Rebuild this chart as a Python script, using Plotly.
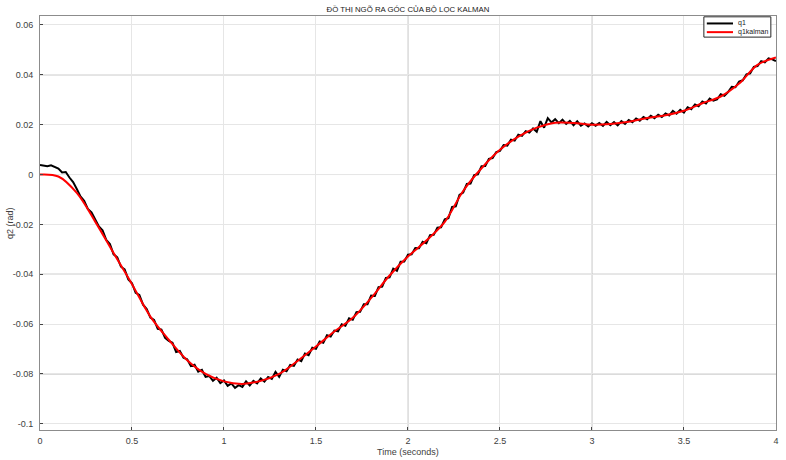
import plotly.graph_objects as go

# Time axis (seconds)
t_kalman = [i / 10 for i in range(41)]
t_meas = [i / 50 for i in range(201)]

# q1 kalman estimate (rad), read every 0.1 s
q1_kalman = [
    0.0000, -0.0008, -0.0074, -0.0189, -0.0315, -0.0440, -0.0570, -0.0663,
    -0.0745, -0.0800, -0.0830, -0.0840, -0.0828, -0.0800, -0.0748, -0.0690,
    -0.0630, -0.0575, -0.0495, -0.0405, -0.0329, -0.0265, -0.0190, -0.0066,
    0.0025, 0.0099, 0.0152, 0.0188, 0.0208, 0.0207, 0.0200, 0.0203,
    0.0212, 0.0227, 0.0238, 0.0256, 0.0286, 0.0313, 0.0365, 0.0440, 0.0470,
]

# q1 measured (rad), read every 0.02 s
q1 = [
    0.0038, 0.0036, 0.0033, 0.0037, 0.0031, 0.0024, 0.0008, 0.0010, -0.0012, -0.0030,
    -0.0058, -0.0088, -0.0105, -0.0138, -0.0152, -0.0178, -0.0208, -0.0224, -0.0262, -0.0279,
    -0.0320, -0.0332, -0.0370, -0.0381, -0.0421, -0.0436, -0.0475, -0.0483, -0.0522, -0.0540,
    -0.0574, -0.0583, -0.0619, -0.0622, -0.0655, -0.0668, -0.0675, -0.0712, -0.0708, -0.0735,
    -0.0741, -0.0768, -0.0763, -0.0791, -0.0784, -0.0812, -0.0808, -0.0828, -0.0815, -0.0837,
    -0.0826, -0.0848, -0.0838, -0.0856, -0.0845, -0.0852, -0.0830, -0.0846, -0.0828, -0.0838,
    -0.0818, -0.0831, -0.0812, -0.0820, -0.0792, -0.0812, -0.0783, -0.0789, -0.0764, -0.0768,
    -0.0742, -0.0749, -0.0718, -0.0725, -0.0695, -0.0699, -0.0670, -0.0675, -0.0645, -0.0650,
    -0.0626, -0.0629, -0.0601, -0.0607, -0.0577, -0.0583, -0.0552, -0.0551, -0.0520, -0.0520,
    -0.0486, -0.0487, -0.0452, -0.0450, -0.0415, -0.0413, -0.0378, -0.0386, -0.0350, -0.0349,
    -0.0322, -0.0320, -0.0295, -0.0296, -0.0270, -0.0276, -0.0243, -0.0242, -0.0213, -0.0212,
    -0.0180, -0.0175, -0.0130, -0.0128, -0.0082, -0.0072, -0.0038, -0.0036, -0.0002, 0.0001,
    0.0033, 0.0034, 0.0063, 0.0066, 0.0090, 0.0095, 0.0118, 0.0116, 0.0140, 0.0136,
    0.0160, 0.0155, 0.0174, 0.0168, 0.0185, 0.0172, 0.0214, 0.0188, 0.0226, 0.0209,
    0.0222, 0.0206, 0.0220, 0.0203, 0.0215, 0.0198, 0.0214, 0.0196, 0.0205, 0.0193,
    0.0206, 0.0196, 0.0207, 0.0195, 0.0211, 0.0198, 0.0210, 0.0197, 0.0214, 0.0203,
    0.0219, 0.0210, 0.0225, 0.0216, 0.0231, 0.0222, 0.0236, 0.0226, 0.0240, 0.0231,
    0.0245, 0.0237, 0.0255, 0.0244, 0.0260, 0.0249, 0.0270, 0.0262, 0.0281, 0.0274,
    0.0293, 0.0285, 0.0305, 0.0296, 0.0301, 0.0322, 0.0316, 0.0331, 0.0352, 0.0350,
    0.0373, 0.0378, 0.0402, 0.0406, 0.0432, 0.0435, 0.0455, 0.0450, 0.0466, 0.0462,
    0.0455,
]

x_ticks = [0, 0.5, 1, 1.5, 2, 2.5, 3, 3.5, 4]
y_ticks = [0.06, 0.04, 0.02, 0, -0.02, -0.04, -0.06, -0.08, -0.1]
y_tick_text = ['0.06', '0.04', '0.02', '0', '-0.02', '-0.04', '-0.06', '-0.08', '-0.1']

# grid lines that show darker in the original picture
dark_y = [0.04, 0, -0.04, -0.08]
dark_x = [2, 3]

FONT = 'Liberation Sans, Arial, sans-serif'

fig = go.Figure()
fig.add_trace(go.Scatter(x=t_meas, y=q1, mode='lines', name='q1',
                         line=dict(color='black', width=2)))
fig.add_trace(go.Scatter(x=t_kalman, y=q1_kalman, mode='lines', name='q1kalman',
                         line=dict(color='#ff0000', width=2, shape='spline')))

for v in dark_y:
    fig.add_shape(type='line', xref='paper', x0=0, x1=1, yref='y', y0=v, y1=v,
                  line=dict(color='#a8a8a8', width=1), layer='below')
for v in dark_x:
    fig.add_shape(type='line', yref='paper', y0=0, y1=1, xref='x', x0=v, x1=v,
                  line=dict(color='#b8b8b8', width=1), layer='below')

# hand-drawn legend box (MATLAB style, compact)
fig.add_shape(type='rect', xref='paper', yref='paper', x0=0.902, x1=0.993,
              y0=0.949, y1=0.998, line=dict(color='#262626', width=1),
              fillcolor='white', layer='above')
legend_rows = [('q1', 'black', 0.982), ('q1kalman', '#ff0000', 0.961)]
for label, color, ypos in legend_rows:
    fig.add_shape(type='line', xref='paper', yref='paper', x0=0.906, x1=0.9416,
                  y0=ypos, y1=ypos, line=dict(color=color, width=2), layer='above')
    fig.add_annotation(text=label, xref='paper', yref='paper', x=0.9457, y=ypos,
                       xanchor='left', yanchor='middle', showarrow=False,
                       font=dict(family=FONT, size=7, color='#202020'))

axis_font = dict(family=FONT, size=9, color='#404040')

fig.add_annotation(text='Time (seconds)', xref='paper', yref='paper', x=0.5, y=-0.053,
                   xanchor='center', yanchor='middle', showarrow=False, font=axis_font)
fig.add_annotation(text='q2 (rad)', xref='paper', yref='paper', x=-0.0408, y=0.5,
                   xanchor='center', yanchor='middle', showarrow=False, textangle=-90,
                   font=axis_font)

fig.update_layout(
    width=786, height=460,
    margin=dict(l=40, r=10, t=16, b=30),
    paper_bgcolor='white', plot_bgcolor='white',
    title=dict(text='ĐỒ THỊ NGÕ RA GÓC CỦA BỘ LỌC KALMAN',
               font=dict(family=FONT, size=7.8, color='#202020'),
               x=0.519, xanchor='center', y=0.979, yanchor='middle'),
    xaxis=dict(range=[0, 4.0005], tickvals=x_ticks, ticks='inside', ticklen=3,
               tickfont=axis_font, showgrid=True, gridcolor='#e6e6e6',
               zeroline=False, showline=True, linecolor='#8c8c8c', mirror=True,
               automargin=False, ticklabelstandoff=2),
    yaxis=dict(range=[-0.1025, 0.0636], tickvals=y_ticks, ticktext=y_tick_text,
               ticks='inside', ticklen=3, tickfont=axis_font, showgrid=True,
               gridcolor='#e6e6e6', zeroline=False, showline=True,
               linecolor='#8c8c8c', mirror=True, automargin=False,
               ticklabelstandoff=4),
    showlegend=False,
)

# drop the default page margin so the figure sits at the window's corner
fig.write_html("out.html", config={'displayModeBar': False},
               post_script="document.body.style.margin='0';")
